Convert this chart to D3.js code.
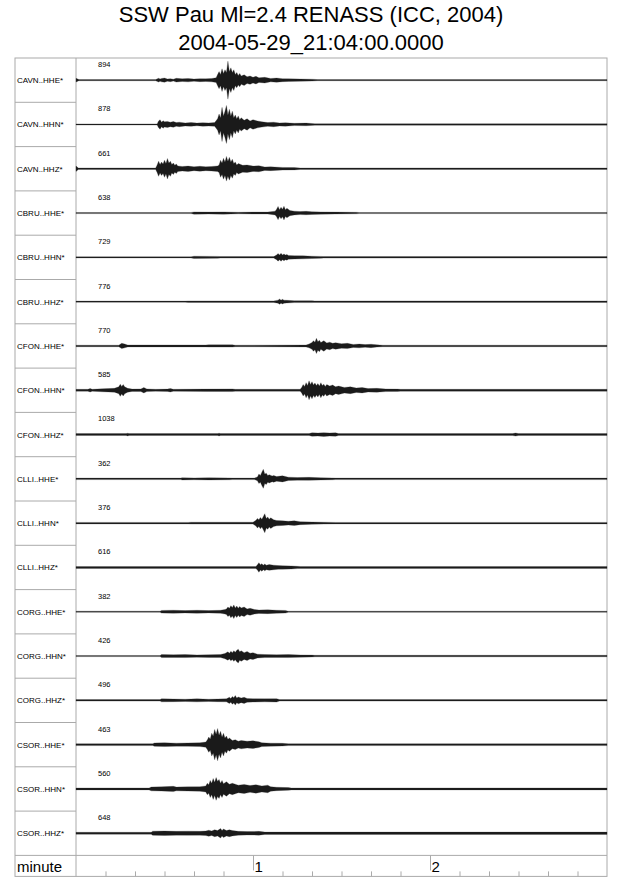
<!DOCTYPE html>
<html lang="en">
<head>
<meta charset="utf-8">
<title>SSW Pau Ml=2.4</title>
<script src="https://d3js.org/d3.v7.min.js"></script>
<style>
  body { margin: 0; background: #fff; }
  svg text { font-family: "Liberation Sans", Helvetica, Arial, sans-serif; fill: #000; }
  .frame { stroke: #aaa; fill: none; stroke-width: 1; }
  .tick line { stroke: #aaa; }
  .domain { display: none; }
</style>
</head>
<body>
<script>
// Width and height
var w = 640;
var h = 878;

var titleLines = ["SSW Pau Ml=2.4 RENASS (ICC, 2004)", "2004-05-29_21:04:00.0000"];

var stations = [
  "CAVN..HHE*", "CAVN..HHN*", "CAVN..HHZ*",
  "CBRU..HHE*", "CBRU..HHN*", "CBRU..HHZ*",
  "CFON..HHE*", "CFON..HHN*", "CFON..HHZ*",
  "CLLI..HHE*", "CLLI..HHN*", "CLLI..HHZ*",
  "CORG..HHE*", "CORG..HHN*", "CORG..HHZ*",
  "CSOR..HHE*", "CSOR..HHN*", "CSOR..HHZ*"
];

var maxCounts = [894, 878, 661, 638, 729, 776, 770, 585, 1038, 362, 376, 616, 382, 426, 496, 463, 560, 648];

// envelope of each trace: [seconds, amplitude in % of full scale]
var envCAVN_E = [[0,10],[1,3],[27,3],[28,10],[28.5,6],[29,9],[30,11],[31,6],[32,8],[33,5],[34,10],[36,7],[38,9],[40,6],[42,8],[44,7],[46,9],[47.5,12],[48,30],[48.5,45],[49,30],[49.5,60],[50,35],[50.5,55],[51,40],[51.5,100],[52,45],[52.5,65],[53,40],[53.5,55],[54,30],[54.5,40],[55,25],[55.5,35],[56,22],[57,28],[58,18],[59,22],[60,15],[61,20],[62,12],[64,15],[66,9],[68,11],[70,8],[72,7],[76,6],[80,5],[82,3],[180,3]];
var envCAVN_N = [[0,3],[27.5,3],[28,18],[28.5,25],[29,12],[29.5,20],[30,14],[31,16],[32,12],[33,15],[34,10],[35,12],[37,8],[39,10],[41,7],[43,9],[45,8],[47,10],[48,30],[48.5,55],[49,35],[49.5,90],[50,45],[50.5,70],[51,100],[51.5,50],[52,80],[52.5,45],[53,70],[53.5,35],[54,50],[54.5,30],[55,45],[55.5,25],[56,35],[57,22],[58,30],[59,18],[60,25],[61.5,18],[63,14],[65,10],[67,12],[69,8],[71,9],[74,6],[78,7],[81,4],[180,4]];
var envCAVN_Z = [[0,14],[0.8,4],[27,4],[27.5,20],[28,40],[28.5,22],[29,35],[29.5,25],[30,45],[30.5,28],[31,54],[31.5,30],[32,40],[32.5,22],[33,30],[33.5,18],[34,25],[34.5,15],[36,12],[38,14],[40,10],[42,13],[44,10],[46,12],[48,15],[48.5,20],[49,45],[49.5,30],[50,55],[50.5,35],[51,65],[51.5,40],[52,60],[52.5,35],[53,50],[53.5,28],[54,35],[54.5,20],[55,28],[56.5,18],[58,20],[60,14],[62,16],[64,9],[66,10],[70,7],[74,6],[76,4],[180,4]];
var envCBRU_E = [[0,3],[39,3],[40,6],[45,5],[50,6],[55,4],[60,5],[65,5],[67.5,10],[68,20],[68.5,35],[69,18],[69.5,30],[70,20],[70.5,36],[71,18],[71.5,25],[72.5,14],[74,10],[76,8],[78,9],[80,7],[83,6],[88,5],[95,4],[96,3],[180,3]];
var envCBRU_N = [[0,3],[39,3],[40,6],[48,5],[49,4],[67,4],[68,12],[68.5,20],[69,12],[69.5,21],[70,12],[70.5,18],[71,12],[71.5,15],[72,10],[74,9],[77,8],[80,6],[83,5],[84,4],[180,4]];
var envCBRU_Z = [[0,3],[37,3],[38,4],[67,4],[68.5,8],[69,14],[69.5,8],[70,12],[70.5,8],[71.5,7],[74,5],[80,5],[81,4],[180,4]];
var envCFON_E = [[0,4],[14.5,4],[15.5,14],[16.5,10],[17.5,5],[44,5],[45,6],[53,6],[54,4],[78,5],[79,10],[80,18],[80.5,28],[81,20],[81.5,40],[82,22],[82.5,30],[83,18],[84,28],[85,16],[86,20],[87,14],[88,17],[90,12],[92,14],[94,8],[96,10],[98,7],[100,9],[102,6],[104,4],[180,4]];
var envCFON_N = [[0,5],[4,5],[4.8,9],[5.5,5],[9,8],[11,9],[13,10],[14.5,18],[15,32],[15.5,20],[16,30],[16.5,18],[17.5,10],[19,6],[22,7],[23,14],[24,7],[27,5],[31,6],[32,9],[33,5],[44,6],[53,7],[54,5],[76,5],[76.5,15],[77,30],[77.5,20],[78,40],[78.5,25],[79,50],[79.5,30],[80,45],[80.5,28],[81,38],[81.5,25],[82,35],[82.5,22],[83,40],[83.5,25],[84,32],[84.5,20],[85,30],[86,22],[87,28],[88,18],[89,22],[91,15],[93,18],[95,12],[97,14],[99,9],[102,10],[105,7],[109,6],[110,5],[180,5]];
var envCFON_Z = [[0,5],[17,5],[17.5,7],[18,5],[48,5],[48.5,7],[49,5],[79,5],[80,9],[82,8],[84,10],[86,8],[88,9],[89,5],[148,5],[149,8],[150,5],[180,5]];
var envCLLI_E = [[0,4],[35.5,4],[36,6],[40,5],[45,6],[52,5],[53,4],[60.5,4],[61.5,10],[62,25],[62.5,18],[63,35],[63.5,50],[64,25],[64.5,30],[65,18],[65.5,22],[66.5,15],[67,18],[68,12],[70,16],[72,9],[75,7],[79,8],[83,6],[87,5],[88,4],[180,4]];
var envCLLI_N = [[0,4],[38,4],[39,5],[60,5],[61,15],[61.5,25],[62,18],[62.5,30],[63,20],[63.5,35],[64,50],[64.5,25],[65,32],[65.5,20],[66,28],[67,18],[68,14],[70,12],[72,10],[74,12],[76,8],[80,6],[84,5],[88,4],[180,4]];
var envCLLI_Z = [[0,5],[61,5],[61.5,14],[62,25],[62.5,14],[63,20],[63.5,12],[64,18],[64.5,12],[65.5,15],[67,12],[68.5,10],[70,9],[73,8],[75,6],[76,5],[180,5]];
var envCORG_E = [[0,3],[28.5,3],[29,7],[33,8],[37,6],[41,8],[45,6],[49,8],[50.5,12],[51,15],[51.5,25],[52,18],[52.5,32],[53,22],[53.5,36],[54,20],[54.5,30],[55,18],[55.5,28],[56,20],[57,25],[58,15],[59,18],[60.5,12],[62,9],[65,10],[68,8],[71,7],[72,3],[180,3]];
var envCORG_N = [[0,3],[28.5,3],[29,8],[33,7],[37,8],[41,6],[45,7],[49,8],[50.5,14],[51.5,22],[52,15],[52.5,25],[53,18],[53.5,28],[54,20],[54.5,30],[55,36],[55.5,22],[56,28],[57,18],[58,24],[59,15],[60,18],[61.5,10],[64,8],[68,7],[72,8],[76,6],[80,5],[81,4],[180,4]];
var envCORG_Z = [[0,4],[28.5,4],[29,8],[33,7],[37,6],[41,8],[45,6],[48,7],[51,8],[52,16],[52.5,10],[53,20],[53.5,14],[54,25],[54.5,12],[55,18],[56,12],[57,16],[58,10],[60,9],[64,8],[68,9],[69,4],[180,4]];
var envCSOR_E = [[0,5],[26,5],[26.6,9],[30,10],[34,8],[38,9],[42,10],[44,14],[44.5,25],[45,40],[45.5,30],[46,60],[46.5,45],[47,80],[47.5,55],[48,85],[48.5,50],[49,70],[49.5,40],[50,60],[50.5,35],[51,45],[51.5,28],[52,35],[53,22],[54,26],[55,18],[56,22],[58,18],[60,20],[62,15],[63,10],[66,8],[70,7],[72,5],[180,5]];
var envCSOR_N = [[0,5],[24.8,5],[25.5,10],[29,11],[33,14],[34,10],[38,11],[42,12],[44,16],[44.5,30],[45,22],[45.5,45],[46,30],[46.5,55],[47,35],[47.5,60],[48,40],[48.5,50],[49,30],[49.5,45],[50,28],[51,38],[52,25],[53,30],[55,20],[57,24],[59,18],[61,22],[63,16],[65,20],[66,12],[68,9],[72,7],[73,5],[180,5]];
var envCSOR_Z = [[0,5],[25.5,5],[26,11],[30,12],[34,10],[38,11],[42,10],[44,12],[45,16],[46,12],[47,18],[48,14],[49,25],[49.5,15],[50,22],[51,14],[52,18],[53,14],[55,10],[58,9],[62,10],[64,6],[180,6]];

var envelopes = [
  envCAVN_E, envCAVN_N, envCAVN_Z,
  envCBRU_E, envCBRU_N, envCBRU_Z,
  envCFON_E, envCFON_N, envCFON_Z,
  envCLLI_E, envCLLI_N, envCLLI_Z,
  envCORG_E, envCORG_N, envCORG_Z,
  envCSOR_E, envCSOR_N, envCSOR_Z
];

var majorTicks = [60, 120];
var minorTicks = [10, 20, 30, 40, 50, 70, 80, 90, 100, 110, 130, 140, 150, 160, 170];

// layout
var padLeft = 15, labelW = 61, padRight = 607;
var padTop = 58, rowH = 44.3, axisH = 21;
var plotBottom = padTop + rowH * stations.length;

var xScale = d3.scaleLinear()
  .domain([0, 180])
  .range([padLeft + labelW, padRight]);

var rowScale = d3.scaleBand()
  .domain(d3.range(stations.length))
  .range([padTop, plotBottom]);

var svg = d3.select("body")
  .append("svg")
  .attr("width", w)
  .attr("height", h);

// title
svg.selectAll("text.title")
  .data(titleLines)
  .enter()
  .append("text")
  .attr("class", "title")
  .attr("x", 311)
  .attr("y", (d, i) => 22 + i * 28)
  .attr("text-anchor", "middle")
  .style("font-size", "22px")
  .text(d => d);

// frame
svg.append("rect")
  .attr("class", "frame")
  .attr("x", padLeft)
  .attr("y", padTop)
  .attr("width", padRight - padLeft)
  .attr("height", plotBottom + axisH - padTop);

svg.append("line")
  .attr("class", "frame")
  .attr("x1", padLeft + labelW).attr("x2", padLeft + labelW)
  .attr("y1", padTop).attr("y2", plotBottom + axisH);

svg.append("line")
  .attr("class", "frame")
  .attr("x1", padLeft).attr("x2", padRight)
  .attr("y1", plotBottom).attr("y2", plotBottom);

// row separators in the label column
svg.selectAll("line.sep")
  .data(d3.range(1, stations.length))
  .enter()
  .append("line")
  .attr("class", "frame sep")
  .attr("x1", padLeft).attr("x2", padLeft + labelW)
  .attr("y1", d => rowScale(d)).attr("y2", d => rowScale(d));

// traces
var rows = svg.selectAll("g.row")
  .data(stations)
  .enter()
  .append("g")
  .attr("class", "row");

rows.each(function(name, i) {
  var g = d3.select(this);
  var y0 = rowScale(i) + rowScale.bandwidth() / 2;
  var yScale = d3.scaleLinear()
    .domain([-100, 100])
    .range([y0 + 19, y0 - 19]);

  var area = d3.area()
    .x(d => xScale(d[0]))
    .y0(d => yScale(-d[1]))
    .y1(d => yScale(d[1]));

  g.append("path")
    .datum(envelopes[i])
    .attr("d", area)
    .attr("fill", "#1a1a1a")
    .attr("stroke", "#333")
    .attr("stroke-width", 0.25);

  g.append("text")
    .attr("x", padLeft + 2)
    .attr("y", y0 + 3)
    .style("font-size", "8px")
    .text(name);

  g.append("text")
    .attr("x", 98)
    .attr("y", rowScale(i) + 9)
    .style("font-size", "7.5px")
    .text(maxCounts[i]);
});

// time axis
var minorAxis = d3.axisTop(xScale)
  .tickValues(minorTicks)
  .tickSize(5)
  .tickFormat("");

svg.append("g")
  .attr("class", "axis")
  .attr("transform", "translate(0," + (plotBottom + axisH) + ")")
  .call(minorAxis);

var majorAxis = d3.axisBottom(xScale)
  .tickValues(majorTicks)
  .tickSize(15)
  .tickFormat(d => d / 60);

var gMajor = svg.append("g")
  .attr("class", "axis")
  .attr("transform", "translate(0," + plotBottom + ")")
  .call(majorAxis);

gMajor.selectAll("text")
  .attr("x", 1)
  .attr("y", 17)
  .attr("dy", null)
  .attr("text-anchor", "start")
  .style("font-size", "15px")
  .style("font-family", "Liberation Sans, Helvetica, Arial, sans-serif");

svg.append("text")
  .attr("x", padLeft + 2)
  .attr("y", plotBottom + 17)
  .style("font-size", "15px")
  .text("minute");
</script>
</body>
</html>
